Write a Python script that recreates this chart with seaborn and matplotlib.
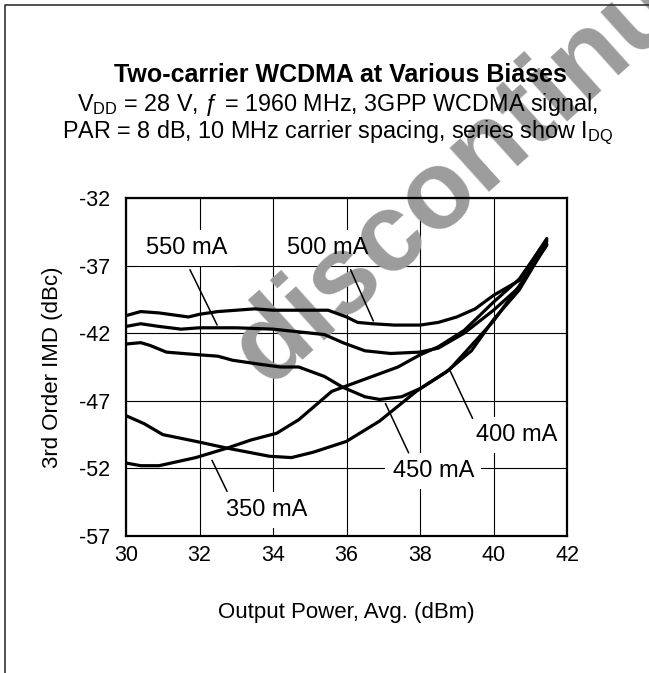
import pandas as pd
import seaborn as sns
import matplotlib.pyplot as plt
from matplotlib.lines import Line2D

# curves: output power (dBm) vs 3rd order IMD (dBc)
x_500 = [30, 30.4, 30.9, 31.7, 32.0, 32.5, 33.0, 33.5, 34.0, 34.7, 35.5, 36.0, 36.3, 36.7, 37.3, 38.0, 38.5, 39.0, 39.5, 40.0, 40.7, 41.45]
y_500 = [-40.7, -40.4, -40.5, -40.8, -40.6, -40.4, -40.3, -40.2, -40.3, -40.3, -40.3, -40.8, -41.2, -41.3, -41.4, -41.4, -41.2, -40.8, -40.2, -39.2, -38.1, -35.0]

x_550 = [30, 30.4, 30.9, 31.5, 32.0, 32.5, 33.0, 34.0, 34.7, 35.4, 35.9, 36.5, 37.2, 38.0, 38.5, 39.2, 40.0, 40.7, 41.45]
y_550 = [-41.5, -41.3, -41.5, -41.7, -41.6, -41.6, -41.6, -41.7, -41.9, -42.1, -42.7, -43.3, -43.5, -43.4, -43.1, -42.0, -40.3, -38.6, -35.2]

x_450 = [30, 30.4, 30.65, 31.1, 32.0, 32.5, 32.9, 33.65, 34.2, 34.7, 35.4, 35.9, 36.5, 36.9, 37.5, 38.0, 38.7, 39.4, 40.0, 40.7, 41.45]
y_450 = [-42.8, -42.7, -42.9, -43.4, -43.6, -43.7, -44.0, -44.3, -44.5, -44.5, -45.2, -46.0, -46.7, -46.9, -46.7, -46.1, -44.9, -43.3, -41.0, -38.8, -35.4]

x_400 = [30, 30.5, 31.0, 31.9, 32.75, 33.9, 34.5, 35.1, 36.0, 36.9, 37.9, 38.8, 40.0, 40.7, 41.45]
y_400 = [-48.1, -48.7, -49.5, -50.0, -50.5, -51.1, -51.2, -50.8, -50.0, -48.5, -46.3, -44.7, -41.1, -38.5, -35.5]

x_350 = [30, 30.4, 30.9, 31.9, 32.75, 33.4, 34.1, 34.7, 35.6, 36.5, 37.4, 38.0, 38.5, 39.2, 40.0, 40.7, 41.45]
y_350 = [-51.6, -51.8, -51.8, -51.2, -50.5, -49.9, -49.4, -48.4, -46.3, -45.4, -44.5, -43.6, -43.0, -41.8, -39.7, -38.0, -35.1]

biases = ["550 mA", "500 mA", "450 mA", "400 mA", "350 mA"]
xs = [x_550, x_500, x_450, x_400, x_350]
ys = [y_550, y_500, y_450, y_400, y_350]

# label text position, leader start, leader end (data coords)
label_text = [(31.66, -35.7), (35.49, -35.7), (38.36, -52.2), (40.63, -49.55), (33.84, -55.1)]
leader_from = [(31.74, -37.3), (36.11, -37.3), (37.69, -50.85), (39.43, -48.3), (32.75, -53.7)]
leader_to = [(32.48, -41.4), (36.73, -41.1), (37.06, -47.2), (38.83, -44.85), (32.34, -51.4)]

x_ticks = [30, 32, 34, 36, 38, 40, 42]
y_ticks = [-57, -52, -47, -42, -37, -32]

df = pd.concat([pd.DataFrame({"pout": x, "imd": y, "bias": b}) for x, y, b in zip(xs, ys, biases)])

sns.set_theme(style="white")
plt.rcParams["font.family"] = ["Liberation Sans", "DejaVu Sans"]
plt.rcParams["mathtext.fontset"] = "custom"
plt.rcParams["mathtext.rm"] = "Liberation Sans"
plt.rcParams["mathtext.it"] = "Liberation Sans:italic"
plt.rcParams["axes.unicode_minus"] = False

fig = plt.figure(figsize=(6.49, 6.73), dpi=100)
ax = fig.add_axes([126 / 649, 1 - 536 / 673, 441 / 649, 338 / 673])

sns.lineplot(data=df, x="pout", y="imd", hue="bias", units="bias", estimator=None,
             sort=False, palette=["black"] * 5, linewidth=2.3, legend=False, ax=ax, zorder=2)

ax.set_xlim(30, 42)
ax.set_ylim(-57, -32)
ax.set_xticks(x_ticks)
ax.set_yticks(y_ticks)
ax.tick_params(axis="both", length=0, labelsize=15.5, colors="black")
ax.tick_params(axis="x", pad=6.5)
ax.tick_params(axis="y", pad=11.5)
ax.grid(True, color="black", linewidth=0.8)
ax.set_axisbelow(True)
for s in ax.spines.values():
    s.set_color("black")
    s.set_linewidth(1.6)
    s.set_zorder(2.5)

ax.set_xlabel("Output Power, Avg. (dBm)", fontsize=16, color="black")
ax.set_ylabel("3rd Order IMD (dBc)", fontsize=16, color="black")
ax.xaxis.set_label_coords(0.5, -0.195)
ax.yaxis.set_label_coords(-0.143, 0.5)

# series labels: white box under the watermark, black text and leader on top
for lab, (tx, ty), p0, p1 in zip(biases, label_text, leader_from, leader_to):
    ax.text(tx, ty, lab, fontsize=17, color="white", ha="center", va="center", zorder=1,
            bbox=dict(boxstyle="square,pad=0.3", fc="white", ec="none"))
    ax.text(tx, ty, lab, fontsize=17, color="black", ha="center", va="center", zorder=4)
    ax.annotate("", xy=p1, xytext=p0,
                arrowprops=dict(arrowstyle="-", color="black", lw=1.1, shrinkA=0, shrinkB=0),
                zorder=4)

# watermark
ax.text(0.778, 0.80, "discontinued", transform=fig.transFigure, fontsize=80,
        fontweight="bold", color="#9c9c9c", rotation=42, ha="center", va="center",
        rotation_mode="anchor", clip_on=False, zorder=1.5)

fig.text(0.525, 1 - 75 / 673, "Two-carrier WCDMA at Various Biases", fontsize=18,
         fontweight="bold", ha="center", va="center", color="black")
fig.text(0.52, 1 - 104 / 673, r"V$_{\mathrm{DD}}$ = 28 V, ƒ = 1960 MHz, 3GPP WCDMA signal,",
         fontsize=16.8, ha="center", va="center", color="black")
fig.text(0.52, 1 - 133 / 673, r"PAR = 8 dB, 10 MHz carrier spacing, series show I$_{\mathrm{DQ}}$",
         fontsize=16.8, ha="center", va="center", color="black")

fig.add_artist(Line2D([5 / 649, 5 / 649, 1], [0, 1 - 5 / 673, 1 - 5 / 673],
                      transform=fig.transFigure, color="#333333", lw=1.2))

fig.savefig("out.png", dpi=100)
